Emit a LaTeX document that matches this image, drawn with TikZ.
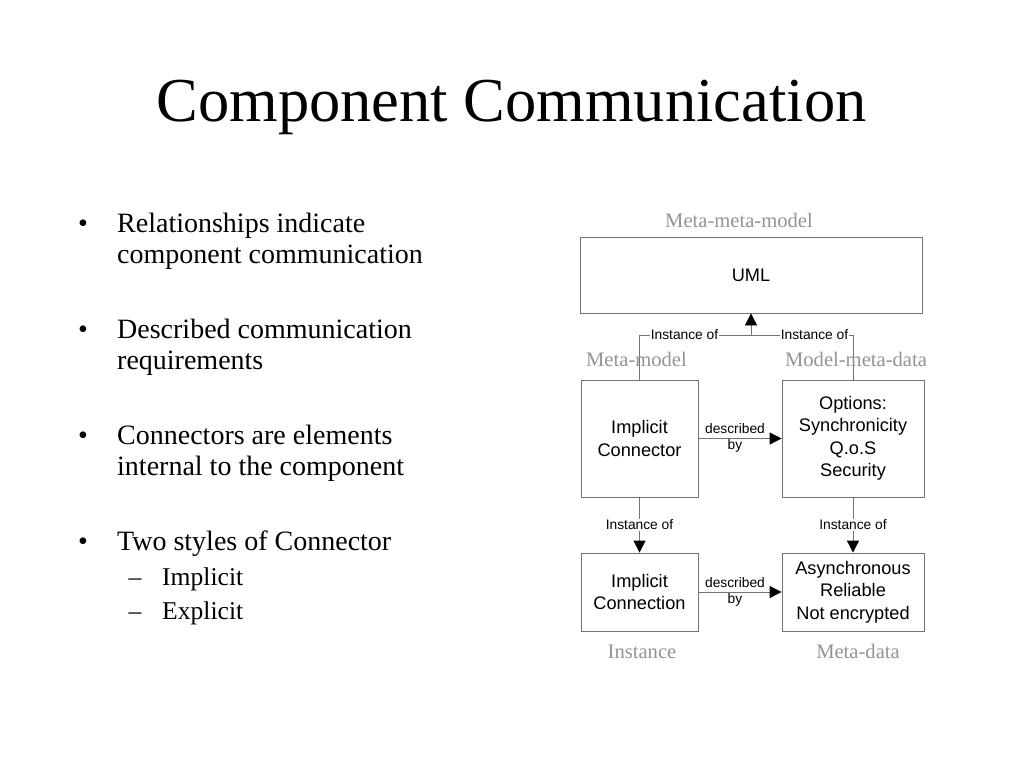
\documentclass[tikz,border=0pt]{standalone}
\usepackage{fontspec}
\setmainfont{Liberation Serif}
\newfontfamily\sansf{Liberation Sans}
\usetikzlibrary{arrows.meta}
\begin{document}
\begin{tikzpicture}[x=1pt,y=-1pt,
  box/.style={draw=black!55, line width=0.8pt, fill=white, align=center, inner sep=0pt,
    font=\sansf\fontsize{18.2}{22.5}\selectfont},
  lbl/.style={font=\sansf\fontsize{13.8}{15.5}\selectfont, inner sep=1pt, align=center},
  greylbl/.style={font=\fontsize{20.6}{22}\selectfont, text=black!42, inner sep=0pt, anchor=base},
  conn/.style={draw=black!55, line width=0.8pt},
  arr/.style={conn, -{Triangle[length=12pt,width=12pt,color=black]}},
  bul/.style={font=\fontsize{28}{32}\selectfont, inner sep=0pt, anchor=base west},
  sub/.style={font=\fontsize{25.6}{30}\selectfont, inner sep=0pt, anchor=base west},
  bdot/.style={font=\fontsize{28}{32}\selectfont, inner sep=0pt, anchor=base},
  sdash/.style={font=\fontsize{25.6}{30}\selectfont, inner sep=0pt, anchor=base}
]
\useasboundingbox[fill=white] (0,0) rectangle (1024,768);

% title
\node[font=\fontsize{62.5}{70}\selectfont, inner sep=0pt, anchor=base] (title) at (511.5,121) {Component Communication};

% bullets
\node[bdot] (d1) at (83,232) {•};
\node[bul] (t1a) at (117,232) {Relationships indicate};
\node[bul] (t1b) at (117,263) {component communication};
\node[bdot] (d2) at (83,338) {•};
\node[bul] (t2a) at (117,338) {Described communication};
\node[bul] (t2b) at (117,369) {requirements};
\node[bdot] (d3) at (83,444) {•};
\node[bul] (t3a) at (117,444) {Connectors are elements};
\node[bul] (t3b) at (117,475) {internal to the component};
\node[bdot] (d4) at (83,550) {•};
\node[bul] (t4) at (117,550) {Two styles of Connector};
\node[sdash] (s1d) at (135,585) {–};
\node[sub] (s1) at (162,585) {Implicit};
\node[sdash] (s2d) at (135,619) {–};
\node[sub] (s2) at (162,619) {Explicit};

% diagram boxes
\node[box, minimum width=342pt, minimum height=76pt] (uml) at (751,275) {UML};
\node[box, minimum width=117pt, minimum height=117pt] (ic) at (639.5,438.5) {Implicit\\Connector};
\node[box, minimum width=142pt, minimum height=117pt] (opt) at (853,438.5) {Options:\\Synchronicity\\Q.o.S\\Security};
\node[box, minimum width=117pt, minimum height=78pt] (icn) at (639.5,592) {Implicit\\Connection};
\node[box, minimum width=142pt, minimum height=78pt] (asy) at (853,592) {Asynchronous\\Reliable\\Not encrypted};

% grey level labels
\node[greylbl] (g1) at (739,227) {Meta-meta-model};
\node[greylbl] (g4) at (642,658) {Instance};
\node[greylbl] (g5) at (858,658) {Meta-data};

% connectors
\coordinate (j) at (751,335);
\draw[conn] (ic.north) |- (j);
\draw[conn] (opt.north) |- (j);
\draw[arr] (j) -- (uml.south);
\node[lbl, fill=white] (io1) at (684.5,335) {Instance of};
\node[lbl, fill=white] (io2) at (814.5,335) {Instance of};

\node[greylbl] (g2) at (636.5,366) {Meta-model};
\node[greylbl] (g3) at (856,366) {Model-meta-data};

\draw[arr] (ic.south) -- (icn.north) node[lbl, fill=white, midway] (io3) {Instance of};
\draw[arr] (opt.south) -- (asy.north) node[lbl, fill=white, midway] (io4) {Instance of};

\draw[arr] (ic.east) -- (opt.west);
\node[lbl] (db1) at (735,438) {described\\by};
\draw[arr] (icn.east) -- (asy.west);
\node[lbl] (db2) at (735,592) {described\\by};
\end{tikzpicture}
\end{document}
